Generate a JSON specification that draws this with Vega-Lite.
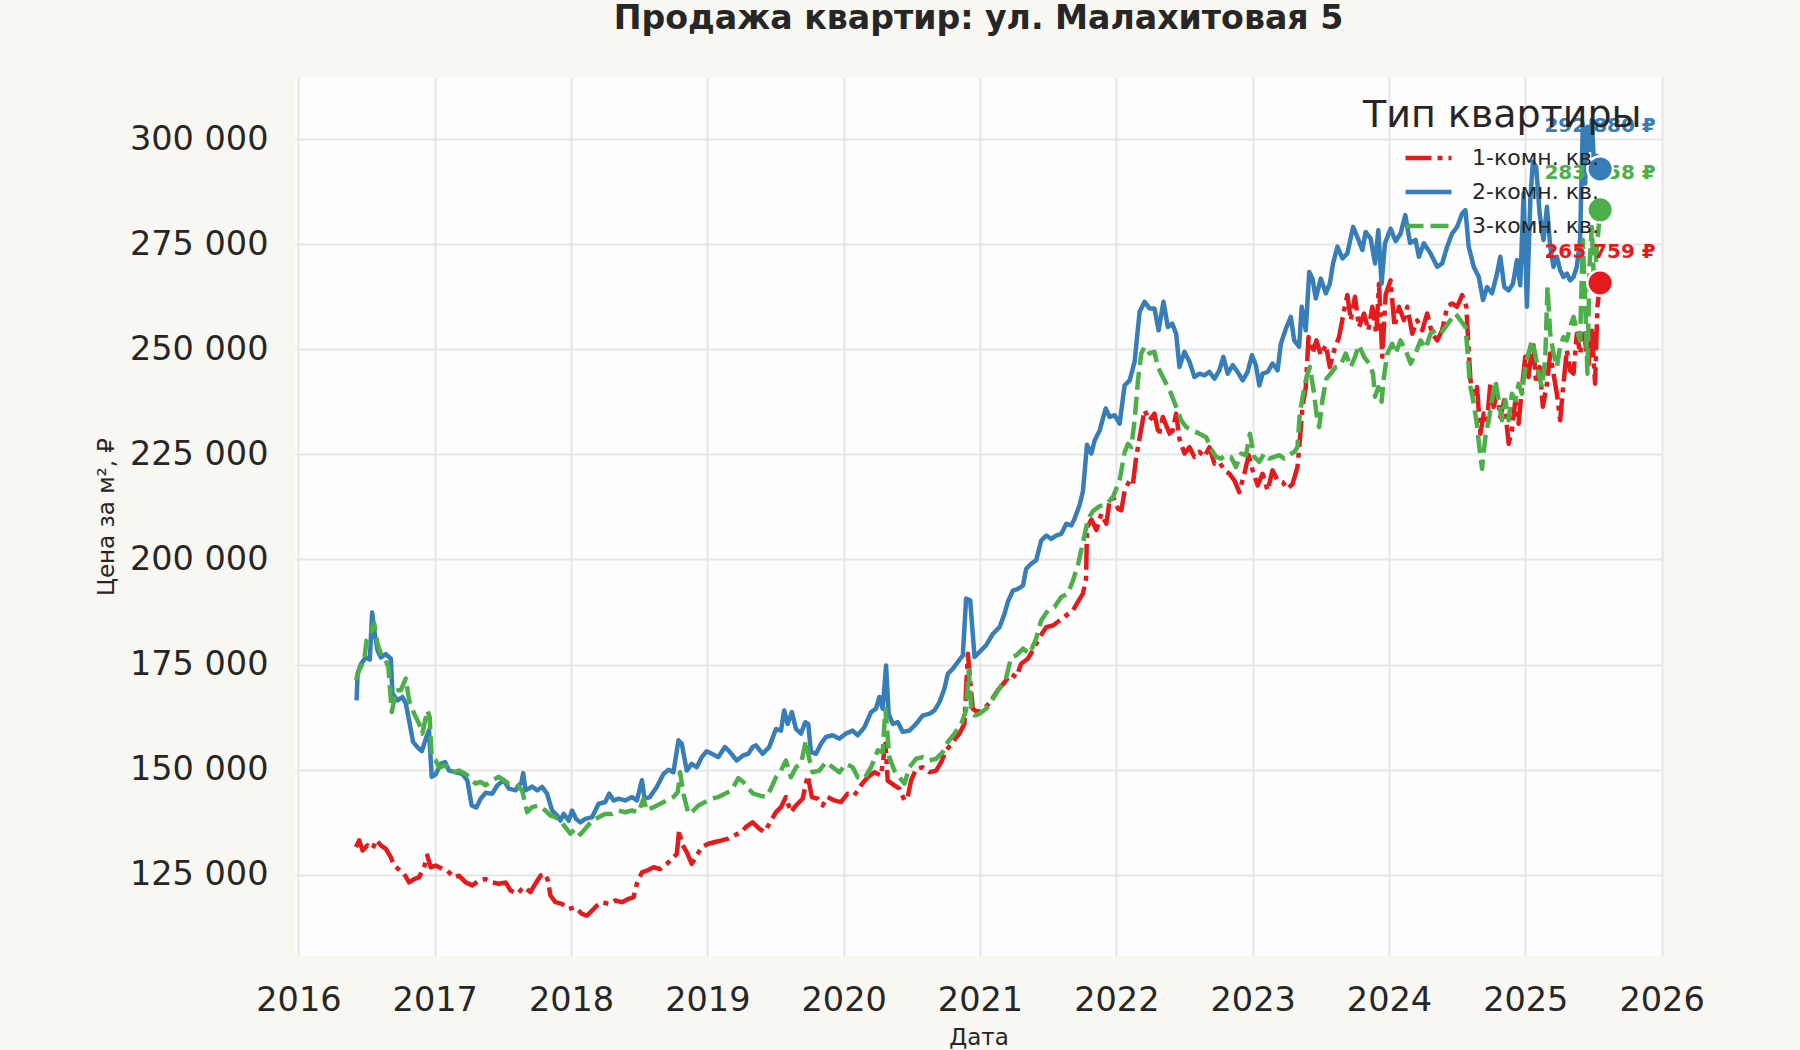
{
  "$schema": "https://vega.github.io/schema/vega-lite/v6.json",
  "width": 1367,
  "height": 879,
  "autosize": {"type": "none"},
  "padding": {"left": 295, "top": 77, "right": 138, "bottom": 94},
  "background": "#f8f7f2",
  "title": {
    "text": "Продажа квартир: ул. Малахитовая 5",
    "font": "DejaVu Sans", "fontSize": 33.2, "fontWeight": "bold", "color": "#262626",
    "anchor": "middle", "frame": "group", "offset": 41
  },
  "config": {
    "view": {"fill": "#fdfdfd", "stroke": null},
    "font": "DejaVu Sans",
    "axis": {
      "grid": true, "gridColor": "#e6e6e6", "gridWidth": 2,
      "domain": false, "ticks": false,
      "labelFont": "DejaVu Sans", "labelFontSize": 33.5, "labelColor": "#262626",
      "titleFont": "DejaVu Sans", "titleFontSize": 23, "titleFontWeight": "normal", "titleColor": "#262626"
    }
  },
  "datasets": {
    "prices": [
      {"year":2016.422,"type":"1-комн. кв.","price":131600},{"year":2016.446,"type":"1-комн. кв.","price":133200},{"year":2016.471,"type":"1-комн. кв.","price":130800},{"year":2016.507,"type":"1-комн. кв.","price":132000},{"year":2016.544,"type":"1-комн. кв.","price":131200},{"year":2016.573,"type":"1-комн. кв.","price":133300},{"year":2016.605,"type":"1-комн. кв.","price":132000},{"year":2016.641,"type":"1-комн. кв.","price":131200},{"year":2016.678,"type":"1-комн. кв.","price":129200},{"year":2016.702,"type":"1-комн. кв.","price":127200},{"year":2016.739,"type":"1-комн. кв.","price":126200},{"year":2016.776,"type":"1-комн. кв.","price":125200},{"year":2016.812,"type":"1-комн. кв.","price":123200},{"year":2016.849,"type":"1-комн. кв.","price":124000},{"year":2016.885,"type":"1-комн. кв.","price":124400},{"year":2016.922,"type":"1-комн. кв.","price":126800},{"year":2016.946,"type":"1-комн. кв.","price":129600},{"year":2016.971,"type":"1-комн. кв.","price":126800},{"year":2017.007,"type":"1-комн. кв.","price":127200},{"year":2017.056,"type":"1-комн. кв.","price":126400},{"year":2017.093,"type":"1-комн. кв.","price":126000},{"year":2017.141,"type":"1-комн. кв.","price":124400},{"year":2017.178,"type":"1-комн. кв.","price":124800},{"year":2017.227,"type":"1-комн. кв.","price":123200},{"year":2017.276,"type":"1-комн. кв.","price":122500},{"year":2017.324,"type":"1-комн. кв.","price":123600},{"year":2017.373,"type":"1-комн. кв.","price":124000},{"year":2017.422,"type":"1-комн. кв.","price":123200},{"year":2017.471,"type":"1-комн. кв.","price":122900},{"year":2017.520,"type":"1-комн. кв.","price":123200},{"year":2017.556,"type":"1-комн. кв.","price":121300},{"year":2017.605,"type":"1-комн. кв.","price":120500},{"year":2017.654,"type":"1-комн. кв.","price":122100},{"year":2017.702,"type":"1-комн. кв.","price":120900},{"year":2017.739,"type":"1-комн. кв.","price":122900},{"year":2017.776,"type":"1-комн. кв.","price":124800},{"year":2017.812,"type":"1-комн. кв.","price":125200},{"year":2017.830,"type":"1-комн. кв.","price":123600},{"year":2017.849,"type":"1-комн. кв.","price":120100},{"year":2017.885,"type":"1-комн. кв.","price":118500},{"year":2017.934,"type":"1-комн. кв.","price":118100},{"year":2017.983,"type":"1-комн. кв.","price":116900},{"year":2018.032,"type":"1-комн. кв.","price":117300},{"year":2018.080,"type":"1-комн. кв.","price":115700},{"year":2018.117,"type":"1-комн. кв.","price":115300},{"year":2018.154,"type":"1-комн. кв.","price":116500},{"year":2018.190,"type":"1-комн. кв.","price":117700},{"year":2018.227,"type":"1-комн. кв.","price":118500},{"year":2018.276,"type":"1-комн. кв.","price":118100},{"year":2018.324,"type":"1-комн. кв.","price":118900},{"year":2018.373,"type":"1-комн. кв.","price":118500},{"year":2018.422,"type":"1-комн. кв.","price":119300},{"year":2018.459,"type":"1-комн. кв.","price":119700},{"year":2018.483,"type":"1-комн. кв.","price":122900},{"year":2018.520,"type":"1-комн. кв.","price":125600},{"year":2018.556,"type":"1-комн. кв.","price":126000},{"year":2018.605,"type":"1-комн. кв.","price":126800},{"year":2018.654,"type":"1-комн. кв.","price":126400},{"year":2018.702,"type":"1-комн. кв.","price":127600},{"year":2018.739,"type":"1-комн. кв.","price":128800},{"year":2018.776,"type":"1-комн. кв.","price":130000},{"year":2018.793,"type":"1-комн. кв.","price":135600},{"year":2018.812,"type":"1-комн. кв.","price":132400},{"year":2018.849,"type":"1-комн. кв.","price":130400},{"year":2018.885,"type":"1-комн. кв.","price":127600},{"year":2018.922,"type":"1-комн. кв.","price":129600},{"year":2018.959,"type":"1-комн. кв.","price":131600},{"year":2019.007,"type":"1-комн. кв.","price":132400},{"year":2019.056,"type":"1-комн. кв.","price":132800},{"year":2019.105,"type":"1-комн. кв.","price":133200},{"year":2019.154,"type":"1-комн. кв.","price":133600},{"year":2019.200,"type":"1-комн. кв.","price":134400},{"year":2019.251,"type":"1-комн. кв.","price":135200},{"year":2019.283,"type":"1-комн. кв.","price":136400},{"year":2019.332,"type":"1-комн. кв.","price":137500},{"year":2019.381,"type":"1-комн. кв.","price":136000},{"year":2019.417,"type":"1-комн. кв.","price":135200},{"year":2019.454,"type":"1-комн. кв.","price":137100},{"year":2019.503,"type":"1-комн. кв.","price":139900},{"year":2019.540,"type":"1-комн. кв.","price":141100},{"year":2019.576,"type":"1-комн. кв.","price":143500},{"year":2019.613,"type":"1-комн. кв.","price":139900},{"year":2019.650,"type":"1-комн. кв.","price":141500},{"year":2019.699,"type":"1-комн. кв.","price":143100},{"year":2019.736,"type":"1-комн. кв.","price":148600},{"year":2019.767,"type":"1-комн. кв.","price":143500},{"year":2019.809,"type":"1-комн. кв.","price":143100},{"year":2019.846,"type":"1-комн. кв.","price":141500},{"year":2019.882,"type":"1-комн. кв.","price":143500},{"year":2019.931,"type":"1-комн. кв.","price":142700},{"year":2019.980,"type":"1-комн. кв.","price":142300},{"year":2020.029,"type":"1-комн. кв.","price":144300},{"year":2020.078,"type":"1-комн. кв.","price":143900},{"year":2020.127,"type":"1-комн. кв.","price":146300},{"year":2020.176,"type":"1-комн. кв.","price":148200},{"year":2020.225,"type":"1-комн. кв.","price":149400},{"year":2020.274,"type":"1-комн. кв.","price":148600},{"year":2020.306,"type":"1-комн. кв.","price":156200},{"year":2020.323,"type":"1-комн. кв.","price":147400},{"year":2020.372,"type":"1-комн. кв.","price":146300},{"year":2020.409,"type":"1-комн. кв.","price":145500},{"year":2020.446,"type":"1-комн. кв.","price":142700},{"year":2020.470,"type":"1-комн. кв.","price":143500},{"year":2020.494,"type":"1-комн. кв.","price":147400},{"year":2020.531,"type":"1-комн. кв.","price":150200},{"year":2020.580,"type":"1-комн. кв.","price":150600},{"year":2020.629,"type":"1-комн. кв.","price":149400},{"year":2020.678,"type":"1-комн. кв.","price":149800},{"year":2020.715,"type":"1-комн. кв.","price":151800},{"year":2020.752,"type":"1-комн. кв.","price":154600},{"year":2020.800,"type":"1-комн. кв.","price":156600},{"year":2020.849,"type":"1-комн. кв.","price":158600},{"year":2020.886,"type":"1-комн. кв.","price":160900},{"year":2020.911,"type":"1-комн. кв.","price":177600},{"year":2020.928,"type":"1-комн. кв.","price":171200},{"year":2020.947,"type":"1-комн. кв.","price":164500},{"year":2020.984,"type":"1-комн. кв.","price":163700},{"year":2021.033,"type":"1-комн. кв.","price":164500},{"year":2021.082,"type":"1-комн. кв.","price":166500},{"year":2021.131,"type":"1-комн. кв.","price":168900},{"year":2021.180,"type":"1-комн. кв.","price":170800},{"year":2021.229,"type":"1-комн. кв.","price":172800},{"year":2021.266,"type":"1-комн. кв.","price":172000},{"year":2021.302,"type":"1-комн. кв.","price":175200},{"year":2021.351,"type":"1-комн. кв.","price":176400},{"year":2021.388,"type":"1-комн. кв.","price":178400},{"year":2021.437,"type":"1-комн. кв.","price":181500},{"year":2021.486,"type":"1-комн. кв.","price":183900},{"year":2021.535,"type":"1-комн. кв.","price":184300},{"year":2021.584,"type":"1-комн. кв.","price":185500},{"year":2021.633,"type":"1-комн. кв.","price":186700},{"year":2021.682,"type":"1-комн. кв.","price":187900},{"year":2021.718,"type":"1-комн. кв.","price":189900},{"year":2021.755,"type":"1-комн. кв.","price":191900},{"year":2021.778,"type":"1-комн. кв.","price":195400},{"year":2021.785,"type":"1-комн. кв.","price":207500},{"year":2021.817,"type":"1-комн. кв.","price":209500},{"year":2021.854,"type":"1-комн. кв.","price":207000},{"year":2021.890,"type":"1-комн. кв.","price":210900},{"year":2021.927,"type":"1-комн. кв.","price":208500},{"year":2021.951,"type":"1-комн. кв.","price":214000},{"year":2021.976,"type":"1-комн. кв.","price":214800},{"year":2022.012,"type":"1-комн. кв.","price":212100},{"year":2022.037,"type":"1-комн. кв.","price":211700},{"year":2022.061,"type":"1-комн. кв.","price":216400},{"year":2022.098,"type":"1-комн. кв.","price":218800},{"year":2022.122,"type":"1-комн. кв.","price":218000},{"year":2022.146,"type":"1-комн. кв.","price":224400},{"year":2022.176,"type":"1-комн. кв.","price":229900},{"year":2022.207,"type":"1-комн. кв.","price":235500},{"year":2022.244,"type":"1-комн. кв.","price":233100},{"year":2022.280,"type":"1-комн. кв.","price":234700},{"year":2022.312,"type":"1-комн. кв.","price":229500},{"year":2022.341,"type":"1-комн. кв.","price":233900},{"year":2022.371,"type":"1-комн. кв.","price":231500},{"year":2022.402,"type":"1-комн. кв.","price":229100},{"year":2022.439,"type":"1-комн. кв.","price":234700},{"year":2022.463,"type":"1-комн. кв.","price":228700},{"year":2022.500,"type":"1-комн. кв.","price":225200},{"year":2022.537,"type":"1-комн. кв.","price":226700},{"year":2022.573,"type":"1-комн. кв.","price":224400},{"year":2022.610,"type":"1-комн. кв.","price":225600},{"year":2022.646,"type":"1-комн. кв.","price":224400},{"year":2022.683,"type":"1-комн. кв.","price":226700},{"year":2022.720,"type":"1-комн. кв.","price":222800},{"year":2022.756,"type":"1-комн. кв.","price":223200},{"year":2022.793,"type":"1-комн. кв.","price":221200},{"year":2022.829,"type":"1-комн. кв.","price":220400},{"year":2022.866,"type":"1-комн. кв.","price":218800},{"year":2022.902,"type":"1-комн. кв.","price":216000},{"year":2022.939,"type":"1-комн. кв.","price":220400},{"year":2022.971,"type":"1-комн. кв.","price":224800},{"year":2023.000,"type":"1-комн. кв.","price":221200},{"year":2023.037,"type":"1-комн. кв.","price":217600},{"year":2023.073,"type":"1-комн. кв.","price":220400},{"year":2023.110,"type":"1-комн. кв.","price":216400},{"year":2023.146,"type":"1-комн. кв.","price":221200},{"year":2023.183,"type":"1-комн. кв.","price":218800},{"year":2023.220,"type":"1-комн. кв.","price":218400},{"year":2023.256,"type":"1-комн. кв.","price":216800},{"year":2023.293,"type":"1-комн. кв.","price":218000},{"year":2023.329,"type":"1-комн. кв.","price":222000},{"year":2023.346,"type":"1-комн. кв.","price":228300},{"year":2023.366,"type":"1-комн. кв.","price":236300},{"year":2023.390,"type":"1-комн. кв.","price":241000},{"year":2023.410,"type":"1-комн. кв.","price":252900},{"year":2023.439,"type":"1-комн. кв.","price":249000},{"year":2023.468,"type":"1-комн. кв.","price":252100},{"year":2023.500,"type":"1-комн. кв.","price":248600},{"year":2023.537,"type":"1-комн. кв.","price":251000},{"year":2023.566,"type":"1-комн. кв.","price":245800},{"year":2023.598,"type":"1-комн. кв.","price":249800},{"year":2023.634,"type":"1-комн. кв.","price":252900},{"year":2023.671,"type":"1-комн. кв.","price":259300},{"year":2023.695,"type":"1-комн. кв.","price":262900},{"year":2023.720,"type":"1-комн. кв.","price":256900},{"year":2023.751,"type":"1-комн. кв.","price":262500},{"year":2023.780,"type":"1-комн. кв.","price":255300},{"year":2023.817,"type":"1-комн. кв.","price":258500},{"year":2023.849,"type":"1-комн. кв.","price":254500},{"year":2023.878,"type":"1-комн. кв.","price":260100},{"year":2023.907,"type":"1-комн. кв.","price":253700},{"year":2023.927,"type":"1-комн. кв.","price":265600},{"year":2023.951,"type":"1-комн. кв.","price":248200},{"year":2023.976,"type":"1-комн. кв.","price":263000},{"year":2024.012,"type":"1-комн. кв.","price":266400},{"year":2024.041,"type":"1-комн. кв.","price":255300},{"year":2024.073,"type":"1-комн. кв.","price":260100},{"year":2024.110,"type":"1-комн. кв.","price":256900},{"year":2024.134,"type":"1-комн. кв.","price":260100},{"year":2024.171,"type":"1-комн. кв.","price":253700},{"year":2024.207,"type":"1-комн. кв.","price":256900},{"year":2024.244,"type":"1-комн. кв.","price":254500},{"year":2024.280,"type":"1-комн. кв.","price":258500},{"year":2024.317,"type":"1-комн. кв.","price":253700},{"year":2024.354,"type":"1-комн. кв.","price":252100},{"year":2024.390,"type":"1-комн. кв.","price":254500},{"year":2024.427,"type":"1-комн. кв.","price":260100},{"year":2024.463,"type":"1-комн. кв.","price":260900},{"year":2024.500,"type":"1-комн. кв.","price":260100},{"year":2024.537,"type":"1-комн. кв.","price":262900},{"year":2024.568,"type":"1-комн. кв.","price":260100},{"year":2024.578,"type":"1-комн. кв.","price":253700},{"year":2024.598,"type":"1-комн. кв.","price":242600},{"year":2024.622,"type":"1-комн. кв.","price":239400},{"year":2024.646,"type":"1-комн. кв.","price":241000},{"year":2024.671,"type":"1-комн. кв.","price":229900},{"year":2024.695,"type":"1-комн. кв.","price":234700},{"year":2024.720,"type":"1-комн. кв.","price":233100},{"year":2024.744,"type":"1-комн. кв.","price":241800},{"year":2024.768,"type":"1-комн. кв.","price":236300},{"year":2024.793,"type":"1-комн. кв.","price":239400},{"year":2024.817,"type":"1-комн. кв.","price":233900},{"year":2024.846,"type":"1-комн. кв.","price":237900},{"year":2024.878,"type":"1-комн. кв.","price":227500},{"year":2024.902,"type":"1-комн. кв.","price":230700},{"year":2024.927,"type":"1-комн. кв.","price":237900},{"year":2024.951,"type":"1-комн. кв.","price":232300},{"year":2024.976,"type":"1-комн. кв.","price":241000},{"year":2025.000,"type":"1-комн. кв.","price":248200},{"year":2025.024,"type":"1-комн. кв.","price":243400},{"year":2025.056,"type":"1-комн. кв.","price":252100},{"year":2025.080,"type":"1-комн. кв.","price":241800},{"year":2025.105,"type":"1-комн. кв.","price":245800},{"year":2025.129,"type":"1-комн. кв.","price":236300},{"year":2025.159,"type":"1-комн. кв.","price":241800},{"year":2025.183,"type":"1-комн. кв.","price":249000},{"year":2025.207,"type":"1-комн. кв.","price":244200},{"year":2025.232,"type":"1-комн. кв.","price":239400},{"year":2025.256,"type":"1-комн. кв.","price":233100},{"year":2025.280,"type":"1-комн. кв.","price":241800},{"year":2025.305,"type":"1-комн. кв.","price":249800},{"year":2025.329,"type":"1-комн. кв.","price":245000},{"year":2025.354,"type":"1-комн. кв.","price":244200},{"year":2025.378,"type":"1-комн. кв.","price":253700},{"year":2025.402,"type":"1-комн. кв.","price":249000},{"year":2025.432,"type":"1-комн. кв.","price":253700},{"year":2025.463,"type":"1-комн. кв.","price":245800},{"year":2025.488,"type":"1-комн. кв.","price":255300},{"year":2025.512,"type":"1-комн. кв.","price":241800},{"year":2025.529,"type":"1-комн. кв.","price":260100},{"year":2025.549,"type":"1-комн. кв.","price":265759},
      {"year":2016.427,"type":"2-комн. кв.","price":166500},{"year":2016.434,"type":"2-комн. кв.","price":172900},{"year":2016.460,"type":"2-комн. кв.","price":175200},{"year":2016.495,"type":"2-комн. кв.","price":176700},{"year":2016.524,"type":"2-комн. кв.","price":176200},{"year":2016.541,"type":"2-комн. кв.","price":187400},{"year":2016.556,"type":"2-комн. кв.","price":183200},{"year":2016.580,"type":"2-комн. кв.","price":178400},{"year":2016.605,"type":"2-комн. кв.","price":176700},{"year":2016.641,"type":"2-комн. кв.","price":177500},{"year":2016.678,"type":"2-комн. кв.","price":176400},{"year":2016.690,"type":"2-комн. кв.","price":168100},{"year":2016.727,"type":"2-комн. кв.","price":166500},{"year":2016.763,"type":"2-комн. кв.","price":167300},{"year":2016.788,"type":"2-комн. кв.","price":165700},{"year":2016.812,"type":"2-комн. кв.","price":161700},{"year":2016.841,"type":"2-комн. кв.","price":156600},{"year":2016.873,"type":"2-комн. кв.","price":155400},{"year":2016.905,"type":"2-комн. кв.","price":154400},{"year":2016.939,"type":"2-комн. кв.","price":157800},{"year":2016.958,"type":"2-комн. кв.","price":159400},{"year":2016.978,"type":"2-комн. кв.","price":148300},{"year":2017.007,"type":"2-комн. кв.","price":148900},{"year":2017.044,"type":"2-комн. кв.","price":151400},{"year":2017.076,"type":"2-комн. кв.","price":151800},{"year":2017.105,"type":"2-комн. кв.","price":149800},{"year":2017.154,"type":"2-комн. кв.","price":149400},{"year":2017.202,"type":"2-комн. кв.","price":149000},{"year":2017.239,"type":"2-комн. кв.","price":147500},{"year":2017.271,"type":"2-комн. кв.","price":141500},{"year":2017.305,"type":"2-комн. кв.","price":141000},{"year":2017.337,"type":"2-комн. кв.","price":143100},{"year":2017.373,"type":"2-комн. кв.","price":144500},{"year":2017.422,"type":"2-комн. кв.","price":144300},{"year":2017.459,"type":"2-комн. кв.","price":146300},{"year":2017.507,"type":"2-комн. кв.","price":147500},{"year":2017.544,"type":"2-комн. кв.","price":145500},{"year":2017.593,"type":"2-комн. кв.","price":145100},{"year":2017.637,"type":"2-комн. кв.","price":147100},{"year":2017.649,"type":"2-комн. кв.","price":149200},{"year":2017.666,"type":"2-комн. кв.","price":145100},{"year":2017.715,"type":"2-комн. кв.","price":146000},{"year":2017.751,"type":"2-комн. кв.","price":145100},{"year":2017.788,"type":"2-комн. кв.","price":145900},{"year":2017.824,"type":"2-комн. кв.","price":144300},{"year":2017.861,"type":"2-комн. кв.","price":140300},{"year":2017.898,"type":"2-комн. кв.","price":139100},{"year":2017.922,"type":"2-комн. кв.","price":137900},{"year":2017.946,"type":"2-комн. кв.","price":139500},{"year":2017.983,"type":"2-комн. кв.","price":137900},{"year":2018.007,"type":"2-комн. кв.","price":140300},{"year":2018.037,"type":"2-комн. кв.","price":138300},{"year":2018.068,"type":"2-комн. кв.","price":137500},{"year":2018.105,"type":"2-комн. кв.","price":138300},{"year":2018.154,"type":"2-комн. кв.","price":138700},{"year":2018.202,"type":"2-комн. кв.","price":141900},{"year":2018.251,"type":"2-комн. кв.","price":142300},{"year":2018.280,"type":"2-комн. кв.","price":144300},{"year":2018.312,"type":"2-комн. кв.","price":142700},{"year":2018.349,"type":"2-комн. кв.","price":143100},{"year":2018.398,"type":"2-комн. кв.","price":142700},{"year":2018.446,"type":"2-комн. кв.","price":143500},{"year":2018.483,"type":"2-комн. кв.","price":142700},{"year":2018.520,"type":"2-комн. кв.","price":147500},{"year":2018.539,"type":"2-комн. кв.","price":143100},{"year":2018.578,"type":"2-комн. кв.","price":143500},{"year":2018.629,"type":"2-комн. кв.","price":145900},{"year":2018.678,"type":"2-комн. кв.","price":149000},{"year":2018.715,"type":"2-комн. кв.","price":150000},{"year":2018.751,"type":"2-комн. кв.","price":149400},{"year":2018.788,"type":"2-комн. кв.","price":157000},{"year":2018.812,"type":"2-комн. кв.","price":156200},{"year":2018.849,"type":"2-комн. кв.","price":149800},{"year":2018.885,"type":"2-комн. кв.","price":151400},{"year":2018.922,"type":"2-комн. кв.","price":150600},{"year":2018.959,"type":"2-комн. кв.","price":153000},{"year":2018.995,"type":"2-комн. кв.","price":154400},{"year":2019.032,"type":"2-комн. кв.","price":153800},{"year":2019.080,"type":"2-комн. кв.","price":153000},{"year":2019.129,"type":"2-комн. кв.","price":155400},{"year":2019.166,"type":"2-комн. кв.","price":154200},{"year":2019.215,"type":"2-комн. кв.","price":152200},{"year":2019.263,"type":"2-комн. кв.","price":153400},{"year":2019.300,"type":"2-комн. кв.","price":153800},{"year":2019.332,"type":"2-комн. кв.","price":155400},{"year":2019.356,"type":"2-комн. кв.","price":155800},{"year":2019.405,"type":"2-комн. кв.","price":153800},{"year":2019.454,"type":"2-комн. кв.","price":155400},{"year":2019.503,"type":"2-комн. кв.","price":159700},{"year":2019.540,"type":"2-комн. кв.","price":159300},{"year":2019.564,"type":"2-комн. кв.","price":164100},{"year":2019.589,"type":"2-комн. кв.","price":160900},{"year":2019.620,"type":"2-комн. кв.","price":163700},{"year":2019.650,"type":"2-комн. кв.","price":159700},{"year":2019.687,"type":"2-комн. кв.","price":158600},{"year":2019.718,"type":"2-комн. кв.","price":161300},{"year":2019.740,"type":"2-комн. кв.","price":160900},{"year":2019.760,"type":"2-комн. кв.","price":154200},{"year":2019.797,"type":"2-комн. кв.","price":153800},{"year":2019.834,"type":"2-комн. кв.","price":156200},{"year":2019.870,"type":"2-комн. кв.","price":157800},{"year":2019.919,"type":"2-комн. кв.","price":158200},{"year":2019.968,"type":"2-комн. кв.","price":157400},{"year":2020.017,"type":"2-комн. кв.","price":158600},{"year":2020.066,"type":"2-комн. кв.","price":159300},{"year":2020.103,"type":"2-комн. кв.","price":158200},{"year":2020.152,"type":"2-комн. кв.","price":160100},{"year":2020.201,"type":"2-комн. кв.","price":163700},{"year":2020.237,"type":"2-комн. кв.","price":164500},{"year":2020.262,"type":"2-комн. кв.","price":167300},{"year":2020.286,"type":"2-комн. кв.","price":164500},{"year":2020.311,"type":"2-комн. кв.","price":174800},{"year":2020.330,"type":"2-комн. кв.","price":163300},{"year":2020.360,"type":"2-комн. кв.","price":160900},{"year":2020.397,"type":"2-комн. кв.","price":161300},{"year":2020.433,"type":"2-комн. кв.","price":159000},{"year":2020.482,"type":"2-комн. кв.","price":159300},{"year":2020.531,"type":"2-комн. кв.","price":160900},{"year":2020.580,"type":"2-комн. кв.","price":162900},{"year":2020.629,"type":"2-комн. кв.","price":163300},{"year":2020.666,"type":"2-комн. кв.","price":164100},{"year":2020.703,"type":"2-комн. кв.","price":166100},{"year":2020.739,"type":"2-комн. кв.","price":169300},{"year":2020.764,"type":"2-комн. кв.","price":172800},{"year":2020.800,"type":"2-комн. кв.","price":174000},{"year":2020.837,"type":"2-комн. кв.","price":175600},{"year":2020.874,"type":"2-комн. кв.","price":177200},{"year":2020.898,"type":"2-комн. кв.","price":190700},{"year":2020.928,"type":"2-комн. кв.","price":190300},{"year":2020.960,"type":"2-комн. кв.","price":176800},{"year":2020.996,"type":"2-комн. кв.","price":178000},{"year":2021.045,"type":"2-комн. кв.","price":179600},{"year":2021.094,"type":"2-комн. кв.","price":182300},{"year":2021.143,"type":"2-комн. кв.","price":183900},{"year":2021.180,"type":"2-комн. кв.","price":187100},{"year":2021.204,"type":"2-комн. кв.","price":189900},{"year":2021.241,"type":"2-комн. кв.","price":192600},{"year":2021.278,"type":"2-комн. кв.","price":193000},{"year":2021.315,"type":"2-комн. кв.","price":193800},{"year":2021.339,"type":"2-комн. кв.","price":197800},{"year":2021.376,"type":"2-комн. кв.","price":199000},{"year":2021.412,"type":"2-комн. кв.","price":199800},{"year":2021.449,"type":"2-комн. кв.","price":204500},{"year":2021.486,"type":"2-комн. кв.","price":205700},{"year":2021.523,"type":"2-комн. кв.","price":204900},{"year":2021.559,"type":"2-комн. кв.","price":205700},{"year":2021.596,"type":"2-комн. кв.","price":206100},{"year":2021.633,"type":"2-комн. кв.","price":208500},{"year":2021.670,"type":"2-комн. кв.","price":208100},{"year":2021.694,"type":"2-комн. кв.","price":209700},{"year":2021.731,"type":"2-комн. кв.","price":213000},{"year":2021.755,"type":"2-комн. кв.","price":216200},{"year":2021.785,"type":"2-комн. кв.","price":227300},{"year":2021.817,"type":"2-комн. кв.","price":225200},{"year":2021.841,"type":"2-комн. кв.","price":228300},{"year":2021.878,"type":"2-комн. кв.","price":230700},{"year":2021.922,"type":"2-комн. кв.","price":235900},{"year":2021.951,"type":"2-комн. кв.","price":233900},{"year":2021.988,"type":"2-комн. кв.","price":234300},{"year":2022.024,"type":"2-комн. кв.","price":232300},{"year":2022.061,"type":"2-комн. кв.","price":241400},{"year":2022.098,"type":"2-комн. кв.","price":242600},{"year":2022.134,"type":"2-комн. кв.","price":247000},{"year":2022.171,"type":"2-комн. кв.","price":258900},{"year":2022.207,"type":"2-комн. кв.","price":261300},{"year":2022.244,"type":"2-комн. кв.","price":259700},{"year":2022.280,"type":"2-комн. кв.","price":259700},{"year":2022.310,"type":"2-комн. кв.","price":254500},{"year":2022.346,"type":"2-комн. кв.","price":261300},{"year":2022.378,"type":"2-комн. кв.","price":255300},{"year":2022.410,"type":"2-комн. кв.","price":256100},{"year":2022.439,"type":"2-комн. кв.","price":253700},{"year":2022.463,"type":"2-комн. кв.","price":245800},{"year":2022.500,"type":"2-комн. кв.","price":249400},{"year":2022.537,"type":"2-комн. кв.","price":247000},{"year":2022.573,"type":"2-комн. кв.","price":243400},{"year":2022.610,"type":"2-комн. кв.","price":244200},{"year":2022.646,"type":"2-комн. кв.","price":243800},{"year":2022.683,"type":"2-комн. кв.","price":244600},{"year":2022.720,"type":"2-комн. кв.","price":243000},{"year":2022.756,"type":"2-комн. кв.","price":245000},{"year":2022.785,"type":"2-комн. кв.","price":248200},{"year":2022.817,"type":"2-комн. кв.","price":244200},{"year":2022.854,"type":"2-комн. кв.","price":246200},{"year":2022.890,"type":"2-комн. кв.","price":244600},{"year":2022.927,"type":"2-комн. кв.","price":242600},{"year":2022.963,"type":"2-комн. кв.","price":244600},{"year":2022.995,"type":"2-комн. кв.","price":248600},{"year":2023.024,"type":"2-комн. кв.","price":246200},{"year":2023.049,"type":"2-комн. кв.","price":241400},{"year":2023.073,"type":"2-комн. кв.","price":244200},{"year":2023.110,"type":"2-комн. кв.","price":244600},{"year":2023.146,"type":"2-комн. кв.","price":246600},{"year":2023.183,"type":"2-комн. кв.","price":245000},{"year":2023.207,"type":"2-комн. кв.","price":251300},{"year":2023.244,"type":"2-комн. кв.","price":254900},{"year":2023.280,"type":"2-комн. кв.","price":257700},{"year":2023.305,"type":"2-комн. кв.","price":252100},{"year":2023.341,"type":"2-комн. кв.","price":250600},{"year":2023.360,"type":"2-комн. кв.","price":260100},{"year":2023.390,"type":"2-комн. кв.","price":254500},{"year":2023.415,"type":"2-комн. кв.","price":268400},{"year":2023.439,"type":"2-комн. кв.","price":266800},{"year":2023.463,"type":"2-комн. кв.","price":262100},{"year":2023.500,"type":"2-комн. кв.","price":266800},{"year":2023.537,"type":"2-комн. кв.","price":263300},{"year":2023.566,"type":"2-комн. кв.","price":265600},{"year":2023.590,"type":"2-комн. кв.","price":270400},{"year":2023.622,"type":"2-комн. кв.","price":274400},{"year":2023.659,"type":"2-комн. кв.","price":271600},{"year":2023.695,"type":"2-комн. кв.","price":272800},{"year":2023.737,"type":"2-комн. кв.","price":279100},{"year":2023.768,"type":"2-комн. кв.","price":276700},{"year":2023.805,"type":"2-комн. кв.","price":273600},{"year":2023.829,"type":"2-комн. кв.","price":277900},{"year":2023.866,"type":"2-комн. кв.","price":276300},{"year":2023.898,"type":"2-комн. кв.","price":270400},{"year":2023.922,"type":"2-комн. кв.","price":278300},{"year":2023.946,"type":"2-комн. кв.","price":265600},{"year":2023.971,"type":"2-комн. кв.","price":275200},{"year":2024.012,"type":"2-комн. кв.","price":278700},{"year":2024.049,"type":"2-комн. кв.","price":275700},{"year":2024.085,"type":"2-комн. кв.","price":277500},{"year":2024.120,"type":"2-комн. кв.","price":281900},{"year":2024.155,"type":"2-комн. кв.","price":275300},{"year":2024.195,"type":"2-комн. кв.","price":276000},{"year":2024.220,"type":"2-комн. кв.","price":272000},{"year":2024.256,"type":"2-комн. кв.","price":275200},{"year":2024.305,"type":"2-комн. кв.","price":272800},{"year":2024.354,"type":"2-комн. кв.","price":269600},{"year":2024.390,"type":"2-комн. кв.","price":270400},{"year":2024.427,"type":"2-комн. кв.","price":274400},{"year":2024.463,"type":"2-комн. кв.","price":277500},{"year":2024.500,"type":"2-комн. кв.","price":279100},{"year":2024.537,"type":"2-комн. кв.","price":282300},{"year":2024.561,"type":"2-комн. кв.","price":283100},{"year":2024.585,"type":"2-комн. кв.","price":274400},{"year":2024.622,"type":"2-комн. кв.","price":269600},{"year":2024.659,"type":"2-комн. кв.","price":267200},{"year":2024.690,"type":"2-комн. кв.","price":261700},{"year":2024.720,"type":"2-комн. кв.","price":264800},{"year":2024.756,"type":"2-комн. кв.","price":263300},{"year":2024.793,"type":"2-комн. кв.","price":268000},{"year":2024.817,"type":"2-комн. кв.","price":272000},{"year":2024.846,"type":"2-комн. кв.","price":264800},{"year":2024.878,"type":"2-комн. кв.","price":264000},{"year":2024.910,"type":"2-комн. кв.","price":265600},{"year":2024.939,"type":"2-комн. кв.","price":271200},{"year":2024.963,"type":"2-комн. кв.","price":265200},{"year":2024.988,"type":"2-комн. кв.","price":287100},{"year":2025.012,"type":"2-комн. кв.","price":260100},{"year":2025.037,"type":"2-комн. кв.","price":285500},{"year":2025.056,"type":"2-комн. кв.","price":294600},{"year":2025.080,"type":"2-комн. кв.","price":293400},{"year":2025.105,"type":"2-комн. кв.","price":282300},{"year":2025.134,"type":"2-комн. кв.","price":276000},{"year":2025.159,"type":"2-комн. кв.","price":283900},{"year":2025.183,"type":"2-комн. кв.","price":274400},{"year":2025.207,"type":"2-комн. кв.","price":269600},{"year":2025.232,"type":"2-комн. кв.","price":272000},{"year":2025.256,"type":"2-комн. кв.","price":268800},{"year":2025.280,"type":"2-комн. кв.","price":267200},{"year":2025.305,"type":"2-комн. кв.","price":268000},{"year":2025.329,"type":"2-комн. кв.","price":266400},{"year":2025.354,"type":"2-комн. кв.","price":267200},{"year":2025.378,"type":"2-комн. кв.","price":269600},{"year":2025.402,"type":"2-комн. кв.","price":276000},{"year":2025.422,"type":"2-комн. кв.","price":303500},{"year":2025.439,"type":"2-комн. кв.","price":289400},{"year":2025.456,"type":"2-комн. кв.","price":302900},{"year":2025.471,"type":"2-комн. кв.","price":297400},{"year":2025.488,"type":"2-комн. кв.","price":304500},{"year":2025.505,"type":"2-комн. кв.","price":293400},{"year":2025.525,"type":"2-комн. кв.","price":296000},{"year":2025.549,"type":"2-комн. кв.","price":292880},
      {"year":2016.422,"type":"3-комн. кв.","price":171300},{"year":2016.446,"type":"3-комн. кв.","price":173700},{"year":2016.483,"type":"3-комн. кв.","price":176000},{"year":2016.500,"type":"3-комн. кв.","price":180800},{"year":2016.532,"type":"3-комн. кв.","price":182400},{"year":2016.556,"type":"3-комн. кв.","price":184800},{"year":2016.580,"type":"3-комн. кв.","price":180000},{"year":2016.605,"type":"3-комн. кв.","price":177600},{"year":2016.641,"type":"3-комн. кв.","price":176000},{"year":2016.660,"type":"3-комн. кв.","price":174400},{"year":2016.685,"type":"3-комн. кв.","price":163700},{"year":2016.715,"type":"3-комн. кв.","price":168900},{"year":2016.751,"type":"3-комн. кв.","price":168900},{"year":2016.788,"type":"3-комн. кв.","price":171700},{"year":2016.812,"type":"3-комн. кв.","price":166500},{"year":2016.849,"type":"3-комн. кв.","price":163300},{"year":2016.885,"type":"3-комн. кв.","price":161000},{"year":2016.909,"type":"3-комн. кв.","price":158600},{"year":2016.946,"type":"3-комн. кв.","price":164100},{"year":2016.963,"type":"3-комн. кв.","price":162500},{"year":2016.978,"type":"3-комн. кв.","price":153000},{"year":2017.007,"type":"3-комн. кв.","price":152200},{"year":2017.032,"type":"3-комн. кв.","price":150600},{"year":2017.080,"type":"3-комн. кв.","price":151000},{"year":2017.129,"type":"3-комн. кв.","price":149400},{"year":2017.178,"type":"3-комн. кв.","price":149800},{"year":2017.227,"type":"3-комн. кв.","price":149000},{"year":2017.263,"type":"3-комн. кв.","price":147900},{"year":2017.300,"type":"3-комн. кв.","price":146700},{"year":2017.337,"type":"3-комн. кв.","price":147100},{"year":2017.373,"type":"3-комн. кв.","price":146300},{"year":2017.422,"type":"3-комн. кв.","price":147500},{"year":2017.471,"type":"3-комн. кв.","price":148300},{"year":2017.507,"type":"3-комн. кв.","price":147500},{"year":2017.544,"type":"3-комн. кв.","price":146700},{"year":2017.593,"type":"3-комн. кв.","price":146700},{"year":2017.641,"type":"3-комн. кв.","price":145100},{"year":2017.678,"type":"3-комн. кв.","price":139900},{"year":2017.715,"type":"3-комн. кв.","price":141100},{"year":2017.763,"type":"3-комн. кв.","price":141500},{"year":2017.812,"type":"3-комн. кв.","price":140300},{"year":2017.849,"type":"3-комн. кв.","price":139100},{"year":2017.885,"type":"3-комн. кв.","price":138700},{"year":2017.922,"type":"3-комн. кв.","price":137900},{"year":2017.959,"type":"3-комн. кв.","price":136300},{"year":2017.995,"type":"3-комн. кв.","price":134800},{"year":2018.032,"type":"3-комн. кв.","price":136000},{"year":2018.068,"type":"3-комн. кв.","price":134600},{"year":2018.105,"type":"3-комн. кв.","price":136000},{"year":2018.154,"type":"3-комн. кв.","price":137900},{"year":2018.202,"type":"3-комн. кв.","price":138700},{"year":2018.251,"type":"3-комн. кв.","price":139500},{"year":2018.300,"type":"3-комн. кв.","price":139500},{"year":2018.349,"type":"3-комн. кв.","price":140300},{"year":2018.398,"type":"3-комн. кв.","price":139900},{"year":2018.446,"type":"3-комн. кв.","price":140300},{"year":2018.495,"type":"3-комн. кв.","price":139900},{"year":2018.532,"type":"3-комн. кв.","price":143100},{"year":2018.556,"type":"3-комн. кв.","price":140300},{"year":2018.605,"type":"3-комн. кв.","price":141100},{"year":2018.654,"type":"3-комн. кв.","price":141900},{"year":2018.702,"type":"3-комн. кв.","price":142700},{"year":2018.751,"type":"3-комн. кв.","price":143500},{"year":2018.783,"type":"3-комн. кв.","price":144700},{"year":2018.800,"type":"3-комн. кв.","price":149400},{"year":2018.824,"type":"3-комн. кв.","price":144300},{"year":2018.861,"type":"3-комн. кв.","price":139500},{"year":2018.898,"type":"3-комн. кв.","price":140300},{"year":2018.934,"type":"3-комн. кв.","price":141500},{"year":2018.983,"type":"3-комн. кв.","price":142300},{"year":2019.032,"type":"3-комн. кв.","price":143100},{"year":2019.080,"type":"3-комн. кв.","price":143500},{"year":2019.129,"type":"3-комн. кв.","price":144300},{"year":2019.178,"type":"3-комн. кв.","price":145100},{"year":2019.227,"type":"3-комн. кв.","price":148000},{"year":2019.263,"type":"3-комн. кв.","price":147100},{"year":2019.300,"type":"3-комн. кв.","price":145600},{"year":2019.337,"type":"3-комн. кв.","price":144300},{"year":2019.381,"type":"3-комн. кв.","price":143900},{"year":2019.430,"type":"3-комн. кв.","price":143500},{"year":2019.466,"type":"3-комн. кв.","price":145500},{"year":2019.503,"type":"3-комн. кв.","price":148200},{"year":2019.540,"type":"3-комн. кв.","price":149800},{"year":2019.576,"type":"3-комн. кв.","price":152200},{"year":2019.613,"type":"3-комн. кв.","price":148200},{"year":2019.650,"type":"3-комн. кв.","price":150600},{"year":2019.687,"type":"3-комн. кв.","price":151400},{"year":2019.723,"type":"3-комн. кв.","price":157000},{"year":2019.745,"type":"3-комн. кв.","price":153000},{"year":2019.772,"type":"3-комн. кв.","price":149400},{"year":2019.821,"type":"3-комн. кв.","price":149800},{"year":2019.870,"type":"3-комн. кв.","price":151800},{"year":2019.919,"type":"3-комн. кв.","price":150600},{"year":2019.968,"type":"3-комн. кв.","price":149400},{"year":2020.017,"type":"3-комн. кв.","price":151400},{"year":2020.066,"type":"3-комн. кв.","price":150600},{"year":2020.103,"type":"3-комн. кв.","price":148200},{"year":2020.152,"type":"3-комн. кв.","price":147900},{"year":2020.201,"type":"3-комн. кв.","price":150600},{"year":2020.250,"type":"3-комн. кв.","price":154600},{"year":2020.286,"type":"3-комн. кв.","price":154200},{"year":2020.306,"type":"3-комн. кв.","price":164500},{"year":2020.335,"type":"3-комн. кв.","price":153000},{"year":2020.372,"type":"3-комн. кв.","price":149800},{"year":2020.409,"type":"3-комн. кв.","price":148200},{"year":2020.446,"type":"3-комн. кв.","price":146700},{"year":2020.482,"type":"3-комн. кв.","price":150600},{"year":2020.531,"type":"3-комн. кв.","price":152600},{"year":2020.580,"type":"3-комн. кв.","price":153000},{"year":2020.629,"type":"3-комн. кв.","price":152200},{"year":2020.678,"type":"3-комн. кв.","price":152600},{"year":2020.727,"type":"3-комн. кв.","price":154200},{"year":2020.764,"type":"3-комн. кв.","price":156600},{"year":2020.813,"type":"3-комн. кв.","price":158600},{"year":2020.862,"type":"3-комн. кв.","price":160900},{"year":2020.898,"type":"3-комн. кв.","price":164100},{"year":2020.918,"type":"3-комн. кв.","price":173700},{"year":2020.935,"type":"3-комн. кв.","price":164900},{"year":2020.960,"type":"3-комн. кв.","price":162900},{"year":2020.996,"type":"3-комн. кв.","price":163300},{"year":2021.045,"type":"3-комн. кв.","price":164500},{"year":2021.094,"type":"3-комн. кв.","price":166900},{"year":2021.143,"type":"3-комн. кв.","price":169300},{"year":2021.192,"type":"3-комн. кв.","price":172000},{"year":2021.229,"type":"3-комн. кв.","price":176800},{"year":2021.266,"type":"3-комн. кв.","price":177200},{"year":2021.315,"type":"3-комн. кв.","price":178800},{"year":2021.364,"type":"3-комн. кв.","price":177600},{"year":2021.412,"type":"3-комн. кв.","price":181200},{"year":2021.449,"type":"3-комн. кв.","price":185500},{"year":2021.498,"type":"3-комн. кв.","price":187900},{"year":2021.547,"type":"3-комн. кв.","price":188700},{"year":2021.596,"type":"3-комн. кв.","price":191100},{"year":2021.645,"type":"3-комн. кв.","price":191900},{"year":2021.682,"type":"3-комн. кв.","price":195000},{"year":2021.718,"type":"3-комн. кв.","price":198600},{"year":2021.755,"type":"3-комн. кв.","price":204000},{"year":2021.793,"type":"3-комн. кв.","price":209700},{"year":2021.829,"type":"3-комн. кв.","price":211500},{"year":2021.878,"type":"3-комн. кв.","price":212700},{"year":2021.927,"type":"3-комн. кв.","price":213100},{"year":2021.976,"type":"3-комн. кв.","price":214900},{"year":2022.024,"type":"3-комн. кв.","price":218800},{"year":2022.061,"type":"3-комн. кв.","price":225500},{"year":2022.085,"type":"3-комн. кв.","price":227500},{"year":2022.110,"type":"3-комн. кв.","price":226700},{"year":2022.134,"type":"3-комн. кв.","price":233100},{"year":2022.159,"type":"3-комн. кв.","price":242600},{"year":2022.183,"type":"3-комн. кв.","price":249000},{"year":2022.207,"type":"3-комн. кв.","price":250600},{"year":2022.244,"type":"3-комн. кв.","price":249000},{"year":2022.280,"type":"3-комн. кв.","price":249400},{"year":2022.305,"type":"3-комн. кв.","price":245800},{"year":2022.329,"type":"3-комн. кв.","price":244200},{"year":2022.366,"type":"3-комн. кв.","price":241800},{"year":2022.402,"type":"3-комн. кв.","price":239400},{"year":2022.439,"type":"3-комн. кв.","price":236300},{"year":2022.476,"type":"3-комн. кв.","price":233100},{"year":2022.512,"type":"3-комн. кв.","price":231500},{"year":2022.561,"type":"3-комн. кв.","price":230700},{"year":2022.610,"type":"3-комн. кв.","price":229900},{"year":2022.659,"type":"3-комн. кв.","price":229100},{"year":2022.695,"type":"3-комн. кв.","price":226300},{"year":2022.732,"type":"3-комн. кв.","price":224400},{"year":2022.768,"type":"3-комн. кв.","price":224000},{"year":2022.805,"type":"3-комн. кв.","price":224800},{"year":2022.841,"type":"3-комн. кв.","price":224400},{"year":2022.878,"type":"3-комн. кв.","price":222000},{"year":2022.915,"type":"3-комн. кв.","price":225200},{"year":2022.951,"type":"3-комн. кв.","price":224800},{"year":2022.980,"type":"3-комн. кв.","price":229900},{"year":2023.012,"type":"3-комн. кв.","price":224400},{"year":2023.049,"type":"3-комн. кв.","price":223200},{"year":2023.085,"type":"3-комн. кв.","price":225200},{"year":2023.122,"type":"3-комн. кв.","price":224000},{"year":2023.159,"type":"3-комн. кв.","price":224400},{"year":2023.195,"type":"3-комн. кв.","price":224800},{"year":2023.232,"type":"3-комн. кв.","price":224000},{"year":2023.268,"type":"3-комн. кв.","price":224800},{"year":2023.305,"type":"3-комн. кв.","price":225600},{"year":2023.329,"type":"3-комн. кв.","price":226700},{"year":2023.346,"type":"3-комн. кв.","price":234700},{"year":2023.371,"type":"3-комн. кв.","price":239400},{"year":2023.395,"type":"3-комн. кв.","price":243400},{"year":2023.420,"type":"3-комн. кв.","price":245800},{"year":2023.451,"type":"3-комн. кв.","price":239400},{"year":2023.468,"type":"3-комн. кв.","price":234700},{"year":2023.488,"type":"3-комн. кв.","price":231500},{"year":2023.512,"type":"3-комн. кв.","price":237900},{"year":2023.541,"type":"3-комн. кв.","price":243000},{"year":2023.573,"type":"3-комн. кв.","price":244200},{"year":2023.610,"type":"3-комн. кв.","price":245800},{"year":2023.646,"type":"3-комн. кв.","price":246200},{"year":2023.683,"type":"3-комн. кв.","price":249000},{"year":2023.720,"type":"3-комн. кв.","price":245800},{"year":2023.751,"type":"3-комн. кв.","price":248200},{"year":2023.780,"type":"3-комн. кв.","price":251000},{"year":2023.817,"type":"3-комн. кв.","price":248200},{"year":2023.854,"type":"3-комн. кв.","price":246600},{"year":2023.883,"type":"3-комн. кв.","price":244200},{"year":2023.898,"type":"3-комн. кв.","price":238700},{"year":2023.922,"type":"3-комн. кв.","price":241000},{"year":2023.946,"type":"3-комн. кв.","price":237500},{"year":2023.963,"type":"3-комн. кв.","price":243400},{"year":2023.988,"type":"3-комн. кв.","price":249000},{"year":2024.024,"type":"3-комн. кв.","price":251300},{"year":2024.049,"type":"3-комн. кв.","price":249000},{"year":2024.085,"type":"3-комн. кв.","price":252100},{"year":2024.122,"type":"3-комн. кв.","price":249800},{"year":2024.159,"type":"3-комн. кв.","price":246600},{"year":2024.195,"type":"3-комн. кв.","price":249000},{"year":2024.232,"type":"3-комн. кв.","price":252100},{"year":2024.268,"type":"3-комн. кв.","price":250200},{"year":2024.305,"type":"3-комн. кв.","price":253700},{"year":2024.341,"type":"3-комн. кв.","price":254500},{"year":2024.378,"type":"3-комн. кв.","price":253700},{"year":2024.415,"type":"3-комн. кв.","price":255300},{"year":2024.451,"type":"3-комн. кв.","price":256900},{"year":2024.488,"type":"3-комн. кв.","price":258500},{"year":2024.524,"type":"3-комн. кв.","price":256900},{"year":2024.561,"type":"3-комн. кв.","price":255300},{"year":2024.578,"type":"3-комн. кв.","price":249000},{"year":2024.593,"type":"3-комн. кв.","price":241800},{"year":2024.617,"type":"3-комн. кв.","price":237900},{"year":2024.641,"type":"3-комн. кв.","price":233100},{"year":2024.666,"type":"3-комн. кв.","price":225900},{"year":2024.683,"type":"3-комн. кв.","price":221600},{"year":2024.707,"type":"3-комн. кв.","price":229100},{"year":2024.732,"type":"3-комн. кв.","price":233100},{"year":2024.756,"type":"3-комн. кв.","price":237900},{"year":2024.780,"type":"3-комн. кв.","price":242600},{"year":2024.805,"type":"3-комн. кв.","price":237900},{"year":2024.829,"type":"3-комн. кв.","price":233100},{"year":2024.854,"type":"3-комн. кв.","price":237900},{"year":2024.878,"type":"3-комн. кв.","price":233100},{"year":2024.902,"type":"3-комн. кв.","price":239400},{"year":2024.927,"type":"3-комн. кв.","price":237900},{"year":2024.951,"type":"3-комн. кв.","price":241800},{"year":2024.976,"type":"3-комн. кв.","price":239400},{"year":2025.000,"type":"3-комн. кв.","price":245800},{"year":2025.024,"type":"3-комн. кв.","price":249000},{"year":2025.049,"type":"3-комн. кв.","price":252100},{"year":2025.073,"type":"3-комн. кв.","price":249000},{"year":2025.098,"type":"3-комн. кв.","price":244200},{"year":2025.122,"type":"3-комн. кв.","price":241000},{"year":2025.146,"type":"3-комн. кв.","price":247400},{"year":2025.163,"type":"3-комн. кв.","price":264800},{"year":2025.183,"type":"3-комн. кв.","price":253700},{"year":2025.207,"type":"3-комн. кв.","price":249000},{"year":2025.232,"type":"3-комн. кв.","price":245800},{"year":2025.256,"type":"3-комн. кв.","price":250600},{"year":2025.280,"type":"3-комн. кв.","price":252900},{"year":2025.305,"type":"3-комн. кв.","price":252100},{"year":2025.329,"type":"3-комн. кв.","price":255300},{"year":2025.354,"type":"3-комн. кв.","price":257700},{"year":2025.378,"type":"3-комн. кв.","price":254500},{"year":2025.402,"type":"3-комн. кв.","price":252100},{"year":2025.422,"type":"3-комн. кв.","price":276000},{"year":2025.439,"type":"3-комн. кв.","price":261700},{"year":2025.456,"type":"3-комн. кв.","price":244200},{"year":2025.471,"type":"3-комн. кв.","price":269600},{"year":2025.488,"type":"3-комн. кв.","price":279100},{"year":2025.505,"type":"3-комн. кв.","price":264800},{"year":2025.524,"type":"3-комн. кв.","price":273600},{"year":2025.549,"type":"3-комн. кв.","price":283158}
    ],
    "last": [
      {"year":2025.549,"type":"1-комн. кв.","price":265759,"label":"265 759 ₽"},
      {"year":2025.549,"type":"2-комн. кв.","price":292880,"label":"292 880 ₽"},
      {"year":2025.549,"type":"3-комн. кв.","price":283158,"label":"283 158 ₽"}
    ]
  },
  "encoding": {
    "x": {
      "field": "year", "type": "quantitative",
      "scale": {"domain": [2015.975, 2026.003], "nice": false, "zero": false},
      "axis": {
        "values": [2016, 2017, 2018, 2019, 2020, 2021, 2022, 2023, 2024, 2025, 2026],
        "format": "d", "labelFlush": false, "labelOverlap": false,
        "labelPadding": 28, "title": "Дата", "titlePadding": 10
      }
    },
    "y": {
      "field": "price", "type": "quantitative",
      "scale": {"domain": [105700, 314750], "nice": false, "zero": false},
      "axis": {
        "values": [125000, 150000, 175000, 200000, 225000, 250000, 275000, 300000],
        "labelExpr": "replace(format(datum.value, ','), ',', ' ')",
        "labelPadding": 27, "title": "Цена за м², ₽", "titlePadding": 11
      }
    }
  },
  "layer": [
    {
      "data": {"name": "prices"},
      "mark": {"type": "line", "strokeWidth": 4.5, "strokeCap": "butt", "strokeJoin": "round"},
      "encoding": {
        "color": {
          "field": "type", "type": "nominal",
          "scale": {"domain": ["1-комн. кв.", "2-комн. кв.", "3-комн. кв."], "range": ["#e41a1c", "#377eb8", "#4daf4a"]},
          "legend": {
            "title": "Тип квартиры", "orient": "top-right", "offset": 20, "padding": 0,
            "titleFont": "DejaVu Sans", "titleFontSize": 38, "titleFontWeight": "normal", "titleColor": "#262626",
            "titleLimit": 400, "titlePadding": 6,
            "labelFont": "DejaVu Sans", "labelFontSize": 22, "labelColor": "#262626",
            "symbolType": "stroke", "symbolSize": 2116, "symbolStrokeWidth": 4.5,
            "symbolOffset": 40, "labelOffset": 18, "clipHeight": 34, "rowPadding": 0
          }
        },
        "strokeDash": {
          "field": "type", "type": "nominal",
          "scale": {"domain": ["1-комн. кв.", "2-комн. кв.", "3-комн. кв."], "range": [[26, 6, 5, 6], [1, 0], [18, 7]]},
          "legend": {
            "title": "Тип квартиры", "orient": "top-right", "offset": 20, "padding": 0,
            "titleFont": "DejaVu Sans", "titleFontSize": 38, "titleFontWeight": "normal", "titleColor": "#262626",
            "titleLimit": 400, "titlePadding": 6,
            "labelFont": "DejaVu Sans", "labelFontSize": 22, "labelColor": "#262626",
            "symbolType": "stroke", "symbolSize": 2116, "symbolStrokeWidth": 4.5,
            "symbolOffset": 40, "labelOffset": 18, "clipHeight": 34, "rowPadding": 0
          }
        }
      }
    },
    {
      "data": {"name": "last"},
      "transform": [{"filter": "datum.type === '1-комн. кв.'"}],
      "mark": {"type": "text", "font": "DejaVu Sans", "fontSize": 20, "fontWeight": "bold", "align": "center", "baseline": "middle", "dy": -31},
      "encoding": {"text": {"field": "label"}, "color": {"field": "type", "type": "nominal", "legend": null}}
    },
    {
      "data": {"name": "last"},
      "transform": [{"filter": "datum.type === '2-комн. кв.'"}],
      "mark": {"type": "text", "font": "DejaVu Sans", "fontSize": 20, "fontWeight": "bold", "align": "center", "baseline": "middle", "dy": -43},
      "encoding": {"text": {"field": "label"}, "color": {"field": "type", "type": "nominal", "legend": null}}
    },
    {
      "data": {"name": "last"},
      "transform": [{"filter": "datum.type === '3-комн. кв.'"}],
      "mark": {"type": "text", "font": "DejaVu Sans", "fontSize": 20, "fontWeight": "bold", "align": "center", "baseline": "middle", "dy": -37},
      "encoding": {"text": {"field": "label"}, "color": {"field": "type", "type": "nominal", "legend": null}}
    },
    {
      "data": {"name": "last"},
      "mark": {"type": "circle", "size": 650, "opacity": 1, "stroke": "white", "strokeWidth": 2.5},
      "encoding": {"color": {"field": "type", "type": "nominal", "legend": null}}
    }
  ]
}
